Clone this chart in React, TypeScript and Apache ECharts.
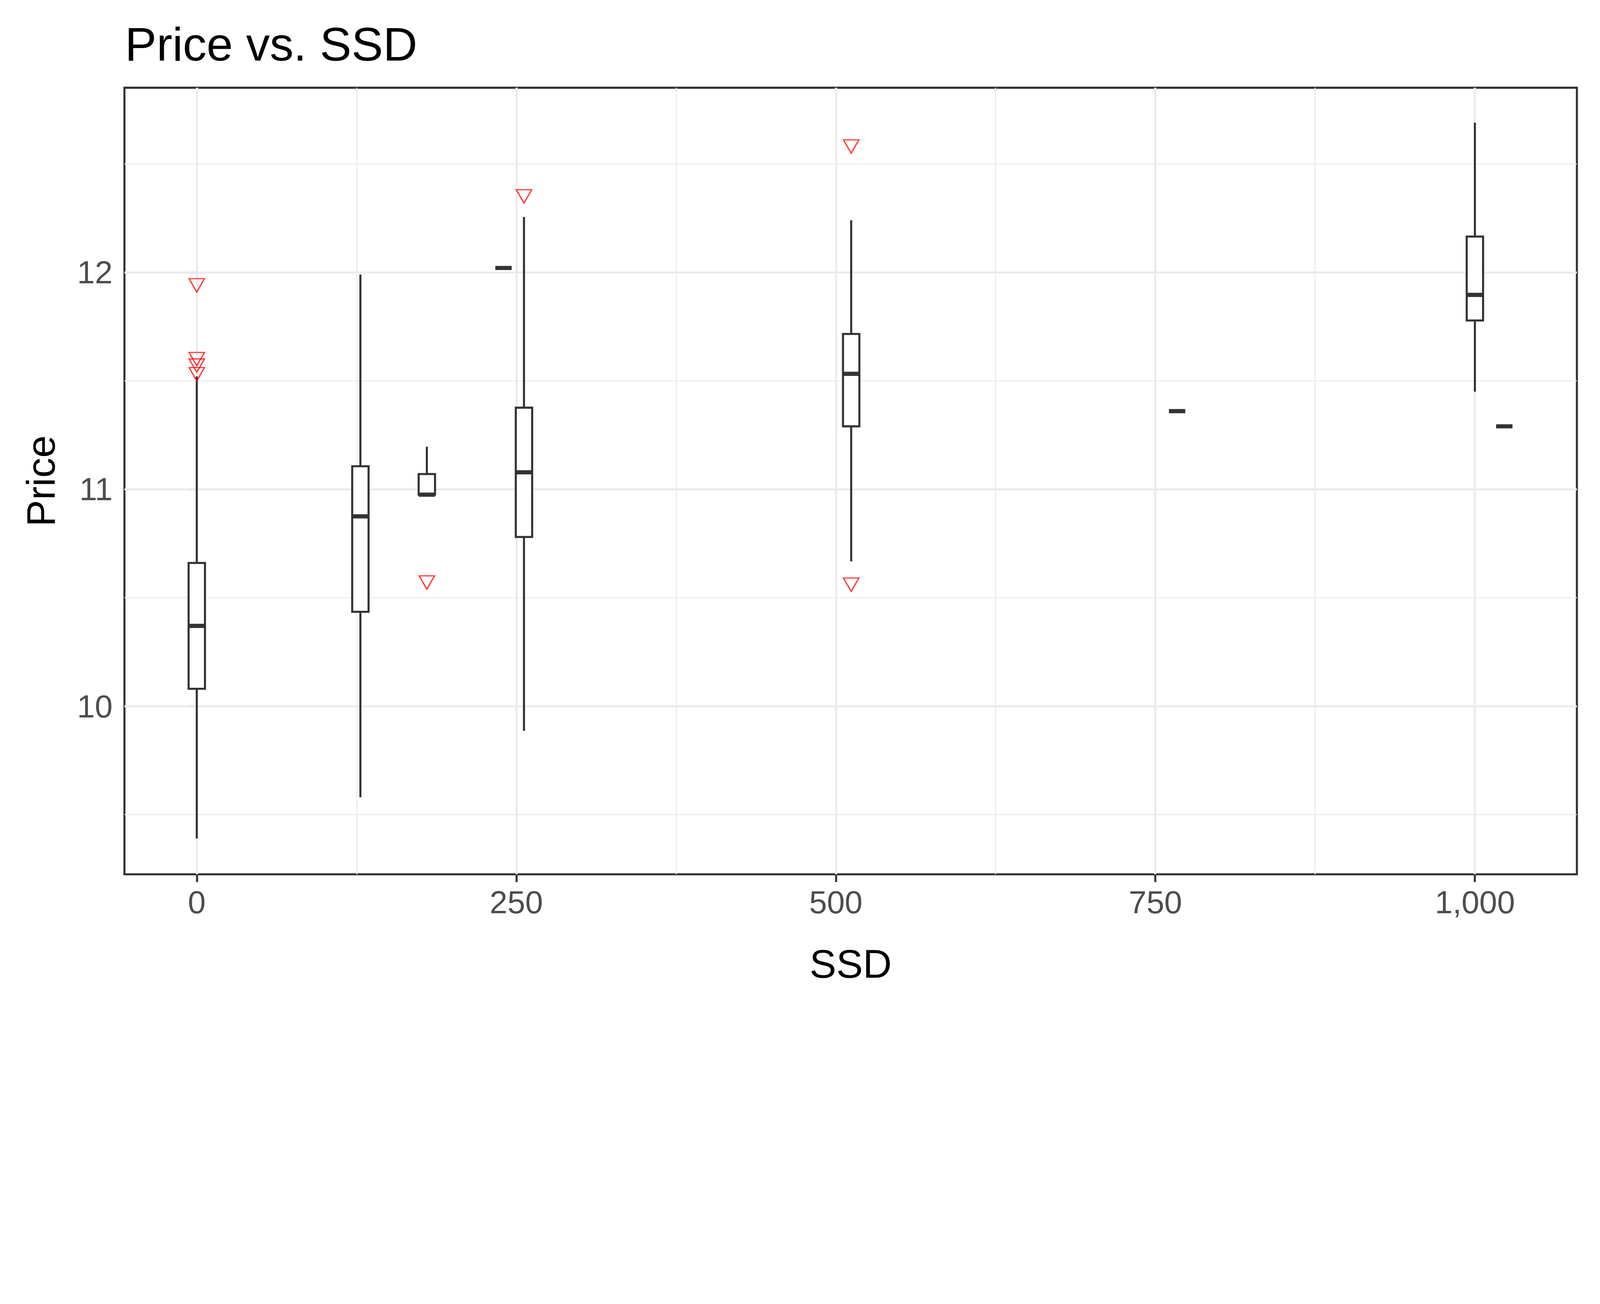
import { useEffect, useRef } from "react";
import * as echarts from "echarts";

// [ssd, lowerWhisker, q1, median, q3, upperWhisker]
const boxes: number[][] = [
  [0, 9.39, 10.08, 10.37, 10.66, 11.52],
  [128, 9.58, 10.435, 10.875, 11.106, 11.99],
  [180, 10.975, 10.975, 10.975, 11.07, 11.196],
  [240, 12.02, 12.02, 12.02, 12.02, 12.02],
  [256, 9.886, 10.78, 11.078, 11.376, 12.255],
  [512, 10.667, 11.29, 11.532, 11.716, 12.24],
  [767, 11.36, 11.36, 11.36, 11.36, 11.36],
  [1000, 11.45, 11.778, 11.896, 12.165, 12.69],
  [1023, 11.29, 11.29, 11.29, 11.29, 11.29],
];

const outliers: number[][] = [
  [0, 11.94], [0, 11.6], [0, 11.57], [0, 11.53],
  [180, 10.57], [256, 12.35], [512, 12.58], [512, 10.56],
];

const xMajor = [0, 250, 500, 750, 1000];
const xMinor = [125, 375, 625, 875];
const yMajor = [10, 11, 12];
const yMinor = [9.5, 10.5, 11.5, 12.5];

const BOX_HALF = 6.4;
const DARK = "#333333";

export default function App() {
  const ref = useRef<HTMLDivElement>(null);
  const W = window.innerWidth || 5400;
  const H = window.innerHeight || 3337;
  const k = Math.min(W / 5400, H / 3337);

  useEffect(() => {
    if (!ref.current) return;
    const chart = echarts.init(ref.current, undefined, { renderer: "svg" });
    const p = (v: number) => v * k;

    const gridLine = (key: "xAxis" | "yAxis", vals: number[], width: number) => ({
      type: "scatter" as const,
      data: [],
      silent: true,
      markLine: {
        silent: true,
        symbol: "none",
        label: { show: false },
        lineStyle: { color: "#EBEBEB", width: p(width), type: "solid" },
        data: vals.map((v) => ({ [key]: v })),
      },
    });

    const font = (size: number, color: string) => ({
      fontFamily: "Liberation Sans", fontSize: p(size), color, fontWeight: "normal",
    });

    chart.setOption({
      animation: false,
      backgroundColor: "#ffffff",
      title: {
        text: "Price vs. SSD",
        left: p(415),
        top: p(62),
        textStyle: font(160, "#000"),
      },
      grid: {
        left: p(420), right: p(78), top: p(296), bottom: p(387),
        show: true, borderColor: DARK, borderWidth: p(7), backgroundColor: "transparent",
      },
      xAxis: {
        type: "value",
        min: -56.6,
        max: 1079.8,
        name: "SSD",
        nameLocation: "middle",
        nameGap: p(235),
        nameTextStyle: font(135, "#000"),
        axisLine: { show: false },
        splitLine: { show: false },
        axisTick: { show: true, customValues: xMajor, length: p(26), lineStyle: { color: DARK, width: p(7) } },
        axisLabel: { customValues: xMajor, margin: p(40), ...font(108, "#4D4D4D") },
      },
      yAxis: {
        type: "value",
        min: 9.2246,
        max: 12.851,
        name: "Price",
        nameLocation: "middle",
        nameGap: p(215),
        nameRotate: 90,
        nameTextStyle: font(135, "#000"),
        axisLine: { show: false },
        splitLine: { show: false },
        axisTick: { show: true, customValues: yMajor, length: p(26), lineStyle: { color: DARK, width: p(7) } },
        axisLabel: { customValues: yMajor, margin: p(40), ...font(108, "#4D4D4D") },
      },
      series: [
        gridLine("xAxis", xMinor, 3.5),
        gridLine("yAxis", yMinor, 3.5),
        gridLine("xAxis", xMajor, 7),
        gridLine("yAxis", yMajor, 7),
        {
          type: "custom",
          data: boxes,
          renderItem: (params: any, api: any) => {
            const x = api.value(0);
            const lo = api.coord([x, api.value(1)]);
            const q1 = api.coord([x, api.value(2)]);
            const med = api.coord([x, api.value(3)]);
            const q3 = api.coord([x, api.value(4)]);
            const hi = api.coord([x, api.value(5)]);
            const left = api.coord([x - BOX_HALF, 0])[0];
            const right = api.coord([x + BOX_HALF, 0])[0];
            const cx = lo[0];
            const ls = { stroke: DARK, lineWidth: p(7), fill: "none" };
            const children: any[] = [];
            if (hi[1] < q3[1]) children.push({ type: "line", shape: { x1: cx, y1: q3[1], x2: cx, y2: hi[1] }, style: ls });
            if (lo[1] > q1[1]) children.push({ type: "line", shape: { x1: cx, y1: q1[1], x2: cx, y2: lo[1] }, style: ls });
            if (q1[1] - q3[1] > 1) {
              children.push({
                type: "rect",
                shape: { x: left, y: q3[1], width: right - left, height: q1[1] - q3[1] },
                style: { stroke: DARK, lineWidth: p(7), fill: "#fff" },
              });
            }
            children.push({ type: "line", shape: { x1: left, y1: med[1], x2: right, y2: med[1] }, style: { stroke: DARK, lineWidth: p(14) } });
            return { type: "group", children };
          },
          z: 5,
        },
        {
          type: "scatter",
          data: outliers,
          symbol: "path://M0,0 L2,0 L1,1.73 Z",
          symbolSize: [p(52), p(45)],
          itemStyle: { color: "none", borderColor: "#FF0000", borderWidth: p(4) },
          z: 6,
        },
      ],
    } as any);

    return () => chart.dispose();
  }, []);

  return <div ref={ref} style={{ position: "absolute", left: 0, top: 0, width: 5400 * k, height: 3337 * k }} />;
}
